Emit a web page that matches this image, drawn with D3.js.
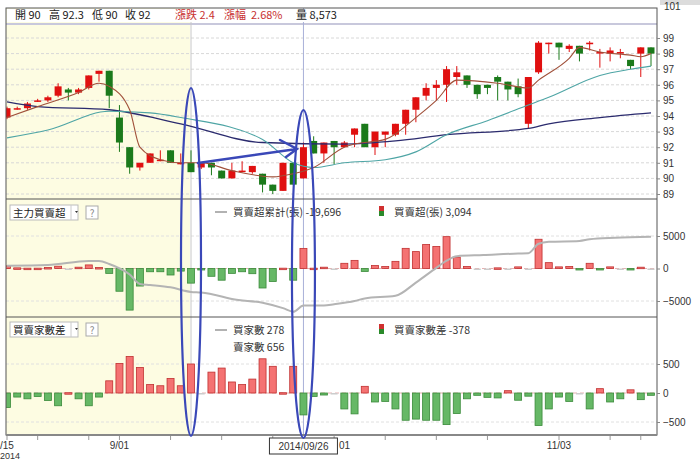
<!DOCTYPE html>
<html>
<head>
<meta charset="utf-8">
<script src="https://cdn.jsdelivr.net/npm/d3@7"></script>
<style>
  body { margin: 0; background: #fff; }
  text { font-family: "Noto Sans CJK TC", "Noto Sans", sans-serif; }
</style>
</head>
<body>
<div id="chart-area"></div>
<script>
// candles: [open, high, low, close] per trading day, index 0 = 8/15
var candles = [
  [93.9,94.6,93.8,94.5],[94.5,94.6,94.4,94.5],[94.5,94.9,94.4,94.8],[95.0,95.1,94.9,95.0],
  [95.0,95.3,94.9,95.2],[95.3,96.1,95.2,95.9],[95.7,95.8,95.0,95.5],[95.5,95.8,95.4,95.7],
  [95.8,96.6,95.7,96.6],[96.7,96.9,96.2,96.9],[96.9,96.9,94.5,95.3],[93.9,94.7,91.7,92.3],
  [92.0,92.0,90.3,90.7],[90.7,91.0,90.5,91.0],[91.0,91.6,91.0,91.6],[91.2,91.8,91.1,91.2],
  [91.8,91.8,91.0,91.0],[91.0,91.6,90.9,91.0],[91.0,91.8,90.4,90.4],[90.7,91.0,90.6,91.0],
  [91.0,91.0,90.2,90.7],[90.5,90.5,90.0,90.0],[90.0,91.0,90.0,90.5],[90.5,91.1,90.4,90.5],
  [90.4,90.8,90.3,90.8],[90.3,90.3,89.1,89.6],[89.6,89.6,89.0,89.2],[89.2,91.0,89.2,91.0],
  [91.0,91.0,89.6,89.6],[90.0,92.3,90.0,92.0],[92.4,92.7,91.6,91.6],[91.6,92.3,91.0,92.3],
  [92.4,92.4,90.9,92.0],[92.0,92.4,92.0,92.3],[92.8,93.2,92.0,93.2],[93.5,93.5,92.0,92.0],
  [92.0,93.0,91.5,93.0],[92.8,93.0,92.0,93.0],[92.8,93.5,92.7,93.5],[93.5,94.4,92.8,94.4],
  [94.4,95.2,93.6,95.2],[95.3,96.1,95.0,95.8],[95.8,96.3,95.0,96.0],[96.0,97.2,94.9,97.0],
  [96.5,97.2,96.0,96.8],[96.6,96.6,95.8,96.0],[96.0,96.0,95.1,95.4],[96.0,96.0,95.4,95.8],
  [96.5,96.6,95.0,96.2],[96.2,96.2,95.0,95.7],[95.9,96.4,95.2,95.4],[93.5,96.5,93.2,96.5],
  [96.8,98.8,96.7,98.7],[98.7,98.7,98.0,98.7],[98.7,98.7,97.6,98.4],[98.3,98.6,98.1,98.5],
  [98.5,98.5,97.5,98.0],[98.6,98.8,98.2,98.7],[98.1,98.3,97.1,98.1],[98.0,98.4,97.5,98.2],
  [98.1,98.3,97.7,98.1],[97.6,97.6,97.0,97.2],[98.0,98.4,96.5,98.4],[98.4,98.4,97.2,98.0]
];

// moving averages: [index, price]
var ma5 = [[0,93.9],[3,94.6],[7,95.5],[9,96.1],[10,95.9],[12,94.4],[13,92.0],[15,91.2],[17,91.0],
  [19,91.0],[22,90.5],[26,90.1],[28,90.3],[30,90.7],[33,92.0],[34,92.2],[37,92.5],[40,93.9],
  [42,95.0],[44,96.3],[48,96.1],[51,95.8],[52,96.3],[55,97.7],[56,98.4],[58,98.1],[61,97.9],
  [62,97.8],[63,98.0]];
var ma20 = [[0,92.6],[4,93.1],[10,94.3],[14,94.2],[17,93.9],[25,92.5],[28,91.0],[30,90.7],
  [33,91.0],[37,91.2],[40,91.7],[43,92.8],[47,93.7],[51,94.7],[53,95.2],[58,96.6],[61,97.0],[63,97.2]];
var ma60 = [[0,94.9],[3,94.6],[10,94.4],[17,93.5],[25,92.3],[33,92.2],[38,92.4],[43,92.8],
  [51,93.2],[53,93.5],[58,93.9],[63,94.2]];

// 主力買賣超 (張)
var netBuy = [400,100,50,50,150,350,0,200,550,150,-750,-3500,-6400,-2700,-500,-500,
  -1000,-400,-2250,-100,-1200,-1800,-750,-500,-800,-3000,-2000,50,-1800,3094,50,200,
  0,800,1250,-450,450,300,1100,3100,2600,3700,3400,4900,1750,300,0,0,
  100,0,250,0,4500,900,250,300,-50,800,-50,250,0,-50,200,0];
// 買賣超累計 line as drawn: [index, value]
var netCum = [[0,430],[4,540],[8,1150],[9,1150],[10,700],[12,-920],[13,-2370],[14,-2530],
  [16,-2900],[18,-3600],[19,-3700],[21,-4300],[22,-4700],[25,-5270],[27,-6100],[28,-6650],
  [29,-5700],[31,-5700],[32,-5500],[34,-5000],[35,-4600],[38,-4200],[40,-2170],[42,100],
  [43,1200],[44,1900],[46.6,2070],[50,2300],[51,2340],[52,3800],[53,4100],[56,4240],
  [57,4500],[59.5,4730],[63,4900]];

// 買賣家數差
var brokerDiff = [-250,-70,-100,-60,-130,-220,5,-100,-220,-70,210,510,630,440,145,125,
  250,125,500,0,360,430,190,145,240,590,460,5,460,-378,-60,-35,
  0,-275,-360,115,-155,-145,-275,-470,-450,-470,-470,-545,-355,-100,-40,-75,
  -85,40,-125,-55,-560,-275,-70,-145,0,-275,75,-155,-100,55,-115,-40];

var priceTicks = [89,90,91,92,93,94,95,96,97,98,99];
var xLabels = [[0,"/15"],[11,"9/01"],[32,"01"],[54,"11/03"]];
var xMinorTicks = [3,8,16,21,26,37,42,47,59,62];
var header = [["開 90", 15, "#222"], ["高 92.3", 49, "#222"], ["低 90", 92, "#222"], ["收 92", 125, "#222"],
  ["漲跌 2.4", 175, "#c83030"], ["漲幅", 224, "#c83030"], ["2.68%", 251, "#c83030"], ["量 8,573", 296, "#222"]];

var W = 700, H = 461, L = 6, R = 657;
var svg = d3.select("#chart-area").append("svg").attr("width", W).attr("height", H);

var x = d3.scaleLinear().domain([0, 63]).range([7, 651]);
var yP = d3.scaleLinear().domain([89, 99]).range([194, 38]);
var y2 = d3.scaleLinear().domain([-5000, 5000]).range([301, 236]);
var y3 = d3.scaleLinear().domain([-500, 500]).range([422, 364]);

var RED = "#e01010", GREEN = "#1b7a1b";
var redBar = "#f47272", greenBar = "#66b866";

svg.append("clipPath").attr("id", "clip").append("rect")
  .attr("x", L).attr("y", 0).attr("width", R - L).attr("height", 436);

// backgrounds
svg.append("rect").attr("x", L).attr("y", 8).attr("width", 184).attr("height", 427).attr("fill", "#fdfce2");
svg.append("rect").attr("x", 660).attr("y", 0).attr("width", 40).attr("height", 5).attr("fill", "#dcdcdc");

// grid lines
svg.selectAll(".gp").data(priceTicks).enter().append("line")
  .attr("x1", L).attr("x2", R).attr("y1", yP).attr("y2", yP)
  .attr("stroke", "#d8d8d8").attr("stroke-dasharray", "3,2");
svg.append("line").attr("x1", L).attr("x2", R).attr("y1", 24).attr("y2", 24)
  .attr("stroke", "#c8c8dc").attr("stroke-width", 2);
[-5000, 5000].forEach(function(v) {
  svg.append("line").attr("x1", L).attr("x2", R).attr("y1", y2(v)).attr("y2", y2(v))
    .attr("stroke", "#e0e0e0").attr("stroke-dasharray", "3,2");
});
[-500, 500].forEach(function(v) {
  svg.append("line").attr("x1", L).attr("x2", R).attr("y1", y3(v)).attr("y2", y3(v))
    .attr("stroke", "#e0e0e0").attr("stroke-dasharray", "3,2");
});
svg.append("line").attr("x1", L).attr("x2", R).attr("y1", y2(0)).attr("y2", y2(0))
  .attr("stroke", "#e6b0b0").attr("stroke-dasharray", "4,3");
svg.append("line").attr("x1", L).attr("x2", R).attr("y1", y3(0)).attr("y2", y3(0))
  .attr("stroke", "#e6b0b0").attr("stroke-dasharray", "4,3");

// crosshair verticals
svg.append("line").attr("x1", x(18)).attr("x2", x(18)).attr("y1", 8).attr("y2", 435).attr("stroke", "#c8c8c8");
svg.append("line").attr("x1", x(29)).attr("x2", x(29)).attr("y1", 8).attr("y2", 435).attr("stroke", "#a8b0d8");

var g = svg.append("g").attr("clip-path", "url(#clip)");

// candles
var c = g.selectAll(".candle").data(candles).enter().append("g");
c.append("line")
  .attr("x1", function(d, i) { return x(i); }).attr("x2", function(d, i) { return x(i); })
  .attr("y1", function(d) { return yP(d[1]); }).attr("y2", function(d) { return yP(d[2]); })
  .attr("stroke", function(d) { return d[3] >= d[0] ? RED : GREEN; });
c.append("rect")
  .attr("x", function(d, i) { return x(i) - 3.5; }).attr("width", 7)
  .attr("y", function(d) { return yP(Math.max(d[0], d[3])); })
  .attr("height", function(d) { return Math.max(1.5, Math.abs(yP(d[0]) - yP(d[3]))); })
  .attr("fill", function(d) { return d[3] >= d[0] ? RED : GREEN; });

var line = d3.line().x(function(d) { return x(d[0]); });
g.append("path").datum(ma60).attr("fill", "none").attr("stroke", "#2b2b6e").attr("stroke-width", 1.3)
  .attr("d", line.y(function(d) { return yP(d[1]); }).curve(d3.curveMonotoneX));
g.append("path").datum(ma20).attr("fill", "none").attr("stroke", "#4ea5a5").attr("stroke-width", 1.1)
  .attr("d", line.y(function(d) { return yP(d[1]); }));
g.append("path").datum(ma5).attr("fill", "none").attr("stroke", "#a0503a").attr("stroke-width", 1.1)
  .attr("d", line.y(function(d) { return yP(d[1]); }));

// panel 2 and 3 bars
function bars(data, y) {
  g.append("g").selectAll("rect").data(data).enter().append("rect")
    .attr("x", function(d, i) { return x(i) - 3.5; }).attr("width", 7)
    .attr("y", function(d) { return y(Math.max(0, d)); })
    .attr("height", function(d) { return Math.max(1.5, Math.abs(y(d) - y(0))); })
    .attr("fill", function(d) { return d > 0 ? redBar : d < 0 ? greenBar : "#cccccc"; })
    .attr("stroke", function(d) { return d > 0 ? "#c03030" : d < 0 ? "#3a8a3a" : "none"; })
    .attr("stroke-width", 0.8);
}
bars(netBuy, y2);
g.append("path").datum(netCum).attr("fill", "none").attr("stroke", "#b4b4b4").attr("stroke-width", 2)
  .attr("d", line.y(function(d) { return y2(d[1]); }));
bars(brokerDiff, y3);

// panel frames
svg.append("rect").attr("x", L).attr("y", 8).attr("width", R - L).attr("height", 427)
  .attr("fill", "none").attr("stroke", "#555");
[199, 317].forEach(function(yy) {
  svg.append("line").attr("x1", L).attr("x2", R).attr("y1", yy).attr("y2", yy).attr("stroke", "#555");
});
svg.append("line").attr("x1", L).attr("x2", R).attr("y1", 435).attr("y2", 435).attr("stroke", "#888").attr("stroke-width", 2);

// header strip
svg.append("rect").attr("x", L + 1).attr("y", 9).attr("width", R - L - 2).attr("height", 13).attr("fill", "#fff");
svg.selectAll(".hdr").data(header).enter().append("text")
  .attr("x", function(d) { return d[1]; }).attr("y", 19).attr("font-size", 11)
  .attr("fill", function(d) { return d[2]; }).text(function(d) { return d[0]; });

// right axes
var axP = svg.append("g").attr("transform", "translate(" + R + ",0)")
  .call(d3.axisRight(yP).tickValues(priceTicks).tickSize(3));
axP.append("text").attr("x", 7).attr("y", 10).attr("fill", "#333").attr("font-size", 10).text("101");
var ax2 = svg.append("g").attr("transform", "translate(" + R + ",0)")
  .call(d3.axisRight(y2).tickValues([-5000, 0, 5000]).tickSize(3).tickFormat(d3.format("d")));
var ax3 = svg.append("g").attr("transform", "translate(" + R + ",0)")
  .call(d3.axisRight(y3).tickValues([-500, 0, 500]).tickSize(3).tickFormat(d3.format("d")));
[axP, ax2, ax3].forEach(function(a) {
  a.select(".domain").remove();
  a.selectAll("text").attr("font-size", 10).attr("fill", "#333").style("font-family", "Arial");
  a.selectAll("line").attr("stroke", "#888");
});

// bottom axis
svg.selectAll(".xt").data(xMinorTicks.concat(xLabels.map(function(d) { return d[0]; }))).enter().append("line")
  .attr("x1", function(d) { return x(d); }).attr("x2", function(d) { return x(d); })
  .attr("y1", 436).attr("y2", 440).attr("stroke", "#999");
svg.selectAll(".xl").data(xLabels).enter().append("text")
  .attr("x", function(d) { return d[0] === 0 ? 0 : d[0] === 32 ? 339 : x(d[0]); })
  .attr("y", 449).attr("font-size", 10).attr("fill", "#333").style("font-family", "Arial")
  .attr("text-anchor", function(d) { return d[0] === 0 || d[0] === 32 ? "start" : "middle"; })
  .text(function(d) { return d[1]; });
svg.append("text").attr("x", 0).attr("y", 459).attr("font-size", 9).attr("fill", "#333")
  .style("font-family", "Arial").text("2014");
svg.append("rect").attr("x", x(29) - 34).attr("y", 438).attr("width", 68).attr("height", 16)
  .attr("fill", "#fff").attr("stroke", "#333");
svg.append("text").attr("x", x(29)).attr("y", 450).attr("text-anchor", "middle").attr("font-size", 10)
  .attr("fill", "#333").style("font-family", "Arial").text("2014/09/26");

// panel labels / legends
function dropBox(yy, label) {
  svg.append("rect").attr("x", 10).attr("y", yy).attr("width", 68).attr("height", 15)
    .attr("fill", "#fff").attr("stroke", "#bbb");
  svg.append("text").attr("x", 13).attr("y", yy + 11.5).attr("font-size", 10.5).attr("fill", "#222").text(label);
  svg.append("line").attr("x1", 71).attr("x2", 71).attr("y1", yy).attr("y2", yy + 15).attr("stroke", "#ccc");
  svg.append("path").attr("d", "M78," + (yy + 6) + "l-3,0l1.5,2z").attr("fill", "#333");
  svg.append("rect").attr("x", 86).attr("y", yy + 1).attr("width", 12).attr("height", 13)
    .attr("fill", "#fff").attr("stroke", "#aaa");
  svg.append("text").attr("x", 92).attr("y", yy + 11.5).attr("text-anchor", "middle")
    .attr("font-size", 10).attr("fill", "#888").text("?");
}
dropBox(205, "主力買賣超");
dropBox(322, "買賣家數差");

function legendLine(xx, yy, txt) {
  svg.append("line").attr("x1", xx).attr("x2", xx + 12).attr("y1", yy - 4).attr("y2", yy - 4)
    .attr("stroke", "#999").attr("stroke-width", 1.5);
  svg.append("text").attr("x", xx + 18).attr("y", yy).attr("font-size", 10.5).attr("fill", "#333").text(txt);
}
function legendBox(xx, yy, txt) {
  svg.append("rect").attr("x", xx).attr("y", yy - 10).attr("width", 5).attr("height", 5).attr("fill", "#d03030");
  svg.append("rect").attr("x", xx).attr("y", yy - 5).attr("width", 5).attr("height", 5).attr("fill", "#2a8a2a");
  svg.append("text").attr("x", xx + 15).attr("y", yy).attr("font-size", 10.5).attr("fill", "#333").text(txt);
}
legendLine(215, 216, "買賣超累計(張) -19,696");
legendBox(379, 216, "買賣超(張) 3,094");
legendLine(215, 334, "買家數 278");
svg.append("text").attr("x", 233).attr("y", 351).attr("font-size", 10.5).attr("fill", "#333").text("賣家數 656");
legendBox(379, 334, "買賣家數差 -378");

// hand-drawn annotations
var blue = "#3a48b8";
svg.append("ellipse").attr("cx", x(18)).attr("cy", 262).attr("rx", 10).attr("ry", 174)
  .attr("fill", "none").attr("stroke", blue).attr("stroke-width", 2.2);
svg.append("ellipse").attr("cx", x(29)).attr("cy", 274).attr("rx", 11.5).attr("ry", 164)
  .attr("fill", "none").attr("stroke", blue).attr("stroke-width", 2.2);
svg.append("path").attr("d", "M198,163 L297,149 M280,140 L297,149 L286,157")
  .attr("fill", "none").attr("stroke", blue).attr("stroke-width", 2.5).attr("stroke-linecap", "round");
</script>
</body>
</html>
